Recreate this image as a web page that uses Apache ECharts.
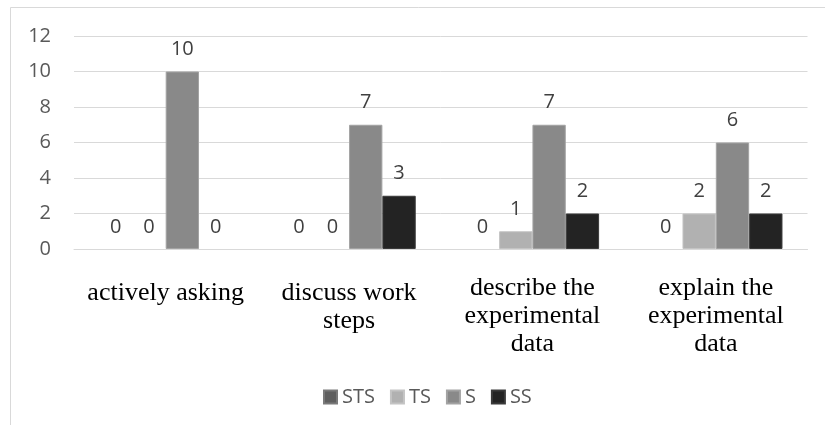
<!DOCTYPE html>
<html>
<head>
<meta charset="utf-8">
<script src="https://cdn.jsdelivr.net/npm/echarts@6/dist/echarts.min.js"></script>
<style>
  html, body { margin: 0; padding: 0; background: #ffffff; }
  #chart { width: 825px; height: 425px; }
</style>
</head>
<body>
<div id="chart"></div>
<script>
// Survey categories (x axis) and response counts per scale level
const categories = [
  'actively asking',
  'discuss work\nsteps',
  'describe the\nexperimental\ndata',
  'explain the\nexperimental\ndata'
];
const seriesNames = ['STS', 'TS', 'S', 'SS'];
const valuesSTS = [0, 0, 0, 0];
const valuesTS = [0, 0, 1, 2];
const valuesS = [10, 7, 7, 6];
const valuesSS = [0, 3, 2, 2];
const yTicks = [0, 2, 4, 6, 8, 10, 12];

const seriesValues = [valuesSTS, valuesTS, valuesS, valuesSS];
const fills = ['#5f5f5f', '#b1b1b1', '#898989', '#232323'];
const edges = ['#7a7a7a', '#c4c4c4', '#a3a3a3', '#3a3a3a'];

const chart = echarts.init(document.getElementById('chart'), null, { renderer: 'canvas' });

const uiFont = '"Open Sans", "Liberation Sans", sans-serif';

chart.setOption({
  backgroundColor: '#ffffff',
  animation: false,
  graphic: [{
    type: 'rect',
    shape: { x: 10.5, y: 7.5, width: 900, height: 500 },
    style: { fill: 'none', stroke: '#d9d9d9', lineWidth: 1 },
    silent: true,
    z: -10
  }],
  grid: { left: 74, right: 17.5, top: 36, bottom: 176, containLabel: false },
  legend: {
    data: seriesNames,
    left: 318,
    top: 382,
    itemWidth: 13,
    itemHeight: 13,
    itemGap: 15,
    icon: 'rect',
    textStyle: {
      fontFamily: '"Liberation Sans Narrow", "Open Sans", sans-serif',
      fontSize: 20,
      color: '#595959',
      padding: [0, 0, 0, 0]
    }
  },
  xAxis: {
    type: 'category',
    data: categories.map((c) => ({
      value: c,
      textStyle: { padding: c.split('\n').length > 2 ? [0, 0, 0, 0] : [5, 0, 0, 0] }
    })),
    axisLine: { show: true, lineStyle: { color: '#d9d9d9', width: 1 } },
    axisTick: { show: false },
    axisLabel: {
      interval: 0,
      margin: 25,
      fontFamily: '"Liberation Serif", "Times New Roman", serif',
      fontSize: 26,
      lineHeight: 28,
      color: '#000000',
      align: 'center'
    }
  },
  yAxis: {
    type: 'value',
    min: yTicks[0],
    max: yTicks[yTicks.length - 1],
    interval: yTicks[1] - yTicks[0],
    axisLine: { show: false },
    axisTick: { show: false },
    splitLine: { lineStyle: { color: '#d9d9d9', width: 1 } },
    axisLabel: {
      margin: 23,
      fontFamily: uiFont,
      fontSize: 20,
      color: '#595959'
    }
  },
  series: seriesNames.map((name, i) => ({
    name: name,
    type: 'bar',
    // zero-height bars get no outline so nothing is drawn for them
    data: seriesValues[i].map((v) => ({
      value: v,
      itemStyle: { borderWidth: v === 0 ? 0 : 1 }
    })),
    barGap: '0%',
    barCategoryGap: '27.3%',
    itemStyle: { color: fills[i], borderColor: edges[i], borderWidth: 1 },
    label: {
      show: true,
      position: 'top',
      distance: 12,
      fontFamily: uiFont,
      fontSize: 20,
      color: '#404040'
    }
  }))
});
</script>
</body>
</html>
